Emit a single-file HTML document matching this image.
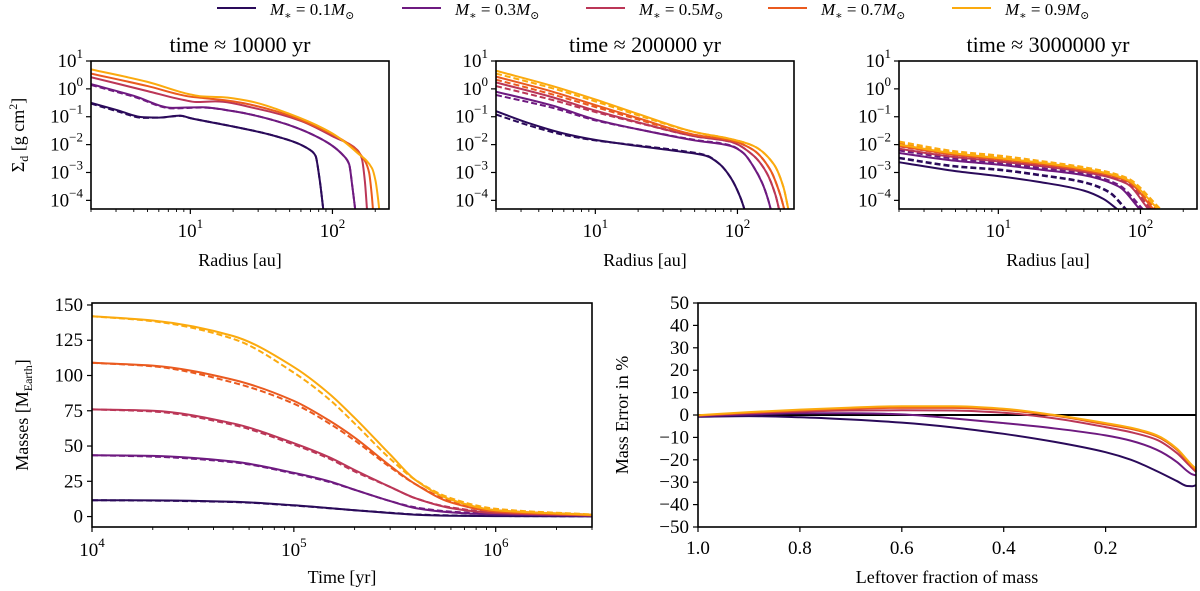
<!DOCTYPE html>
<html><head><meta charset="utf-8">
<style>
html,body{margin:0;padding:0;background:#fff;}
svg{display:block;font-family:"Liberation Serif","DejaVu Serif",serif;}
</style></head>
<body>
<svg id="chart" width="1200" height="591" viewBox="0 0 1200 591" xmlns="http://www.w3.org/2000/svg"></svg>
<script>
const seriesLabels = ["0.1","0.3","0.5","0.7","0.9"];
const seriesColors = ["#2a0a5a","#6e1a80","#bb3657","#ea5a1f","#fbaa0e"];

// Panel 1: t ~ 1e4 yr, points [radius au, log10 Sigma]
const p1Solid = [
 [[2,-0.5],[3,-0.75],[4.7,-1.02],[6,-1.03],[8.5,-0.96],[10,-1.05],[20,-1.35],[40,-1.7],[70,-2.2],[76,-2.4],[81,-3.2],[87,-4.5]],
 [[2,0.17],[4,-0.25],[7.5,-0.68],[12,-0.66],[20,-0.8],[40,-1.15],[80,-1.75],[120,-2.4],[131,-2.7],[138,-3.5],[146,-4.5]],
 [[2,0.42],[5,-0.08],[9,-0.4],[11,-0.47],[15,-0.45],[30,-0.72],[60,-1.15],[100,-1.7],[150,-2.2],[161,-2.5],[169,-3.3],[176,-4.5]],
 [[2,0.55],[5,0.1],[10,-0.28],[13,-0.34],[20,-0.45],[40,-0.8],[80,-1.4],[140,-2.1],[170,-2.6],[181,-3.0],[189,-3.8],[194,-4.5]],
 [[2,0.7],[5,0.25],[10,-0.2],[12,-0.27],[17,-0.3],[25,-0.42],[50,-0.9],[100,-1.6],[150,-2.3],[190,-2.85],[201,-3.3],[210,-4.0],[215,-4.5]]
];
const p1Dashed = [
 [[2,-0.53],[3,-0.79],[4.7,-1.04],[6,-1.03],[8.5,-0.97],[10,-1.05],[20,-1.35],[40,-1.7],[70,-2.2],[76,-2.4],[81,-3.2],[87,-4.5]],
 [[2,0.14],[4,-0.28],[7.5,-0.7],[12,-0.67],[20,-0.8],[40,-1.15],[80,-1.75],[120,-2.4],[131,-2.7],[138,-3.5],[146,-4.5]],
 null,null,null
];
// Panel 2: t ~ 2e5 yr
const p2Solid = [
 [[2,-0.8],[3.5,-1.25],[6,-1.6],[10,-1.83],[20,-2.05],[40,-2.25],[60,-2.4],[75,-2.7],[90,-3.2],[105,-3.9],[115,-4.5]],
 [[2,-0.1],[5,-0.6],[10,-1.1],[20,-1.45],[50,-1.85],[90,-2.05],[110,-2.3],[130,-2.8],[150,-3.4],[165,-4.0],[175,-4.5]],
 [[2,0.23],[5,-0.3],[10,-0.78],[20,-1.2],[50,-1.7],[90,-1.9],[130,-2.4],[160,-3.0],[185,-3.8],[200,-4.5]],
 [[2,0.44],[5,-0.1],[10,-0.58],[20,-1.05],[50,-1.65],[90,-1.85],[130,-2.2],[170,-2.9],[200,-3.8],[218,-4.5]],
 [[2,0.65],[5,0.1],[10,-0.38],[20,-0.9],[50,-1.55],[90,-1.8],[130,-2.05],[180,-2.7],[210,-3.5],[232,-4.5]]
];
const p2Dashed = [
 [[2,-0.92],[3.5,-1.33],[6,-1.65],[10,-1.85],[20,-2.03],[40,-2.22],[60,-2.38],[75,-2.7],[90,-3.2],[105,-3.9],[115,-4.5]],
 [[2,-0.22],[5,-0.68],[10,-1.13],[20,-1.45],[50,-1.83],[90,-2.03],[110,-2.3],[130,-2.8],[150,-3.4],[165,-4.0],[175,-4.5]],
 [[2,0.1],[5,-0.4],[10,-0.83],[20,-1.22],[50,-1.7],[90,-1.9],[130,-2.4],[160,-3.0],[185,-3.8],[200,-4.5]],
 [[2,0.33],[5,-0.2],[10,-0.65],[20,-1.1],[50,-1.65],[90,-1.85],[130,-2.2],[170,-2.9],[200,-3.8],[218,-4.5]],
 [[2,0.55],[5,0.02],[10,-0.45],[20,-0.95],[50,-1.55],[90,-1.8],[130,-2.05],[180,-2.7],[210,-3.5],[232,-4.5]]
];
// Panel 3: t ~ 3e6 yr
const p3Solid = [
 [[2,-2.63],[5,-2.95],[10,-3.13],[20,-3.35],[40,-3.65],[55,-3.95],[70,-4.35]],
 [[2,-2.3],[5,-2.58],[10,-2.72],[20,-2.9],[40,-3.1],[70,-3.5],[100,-4.35]],
 [[2,-2.15],[5,-2.45],[10,-2.6],[20,-2.77],[40,-2.98],[80,-3.4],[115,-4.35]],
 [[2,-2.05],[5,-2.37],[10,-2.53],[20,-2.7],[40,-2.92],[80,-3.3],[125,-4.35]],
 [[2,-2.0],[5,-2.32],[10,-2.48],[20,-2.65],[40,-2.87],[80,-3.25],[135,-4.35]]
];
const p3Dashed = [
 [[2,-2.48],[5,-2.78],[10,-2.9],[20,-3.1],[40,-3.35],[60,-3.7],[80,-4.35]],
 [[2,-2.2],[5,-2.5],[10,-2.65],[20,-2.85],[40,-3.05],[70,-3.45],[105,-4.35]],
 [[2,-2.05],[5,-2.37],[10,-2.53],[20,-2.72],[40,-2.93],[80,-3.35],[120,-4.35]],
 [[2,-1.95],[5,-2.3],[10,-2.47],[20,-2.65],[40,-2.87],[80,-3.25],[130,-4.35]],
 [[2,-1.9],[5,-2.25],[10,-2.4],[20,-2.6],[40,-2.82],[80,-3.2],[140,-4.35]]
];
// Bottom-left: masses vs time
const massTimes = [1e4,2e4,5e4,1e5,1.5e5,2e5,3e5,4e5,6e5,1e6,3e6];
const massSolid = [
 [11.6,11.5,10.5,8,6,4.5,2.5,1.3,0.6,0.3,0.1],
 [43.5,43,39,31,25,19,11,6,3,1.5,0.5],
 [76,75,66,52,42,33,21,13,6,2.5,0.8],
 [109,107,97,82,68,56,36,23,10,3.5,1],
 [142,139,128,106,87,70,44,26,12,4.5,1.2]
];
const massDashed = [
 [11.6,11.3,10.3,7.8,5.9,4.5,2.7,1.5,0.8,0.4,0.2],
 [43.5,42.5,38.5,30.5,24.5,19,11,6.5,3.5,2,0.7],
 [76,74.5,65,51,41,32,21,13,6.5,3,1],
 [109,106.5,95,80,66,54,35,23,11,4.5,1.3],
 [142,138.5,126,102,83,66,41,26,13,5.5,1.5]
];
// Bottom-right: mass error vs leftover fraction
const leftoverFrac = [1.0,0.9,0.8,0.7,0.6,0.5,0.4,0.3,0.2,0.15,0.1,0.06,0.04,0.03,0.022];
const massError = [
 [-0.8,-0.5,-1,-2,-3.4,-5.5,-8.4,-12,-16.6,-20,-25,-29.5,-31.7,-31.8,-31.3],
 [-0.5,0.2,0.8,0.8,0.3,-1.5,-3.6,-6,-9.1,-11.5,-15.5,-21,-25,-26.5,-27],
 [-0.3,0.8,1.5,2,2.1,2,1,-1.5,-5.4,-7.7,-11,-17,-21.5,-23.8,-25.5],
 [-0.2,1,2,2.8,3.2,3.2,2.2,-0.3,-4.2,-6.2,-9.5,-15.5,-20.5,-23,-25],
 [-0.1,1.3,2.4,3.3,3.9,3.9,2.8,0,-3.6,-5.7,-9,-15,-20,-22.5,-24]
];
const errTicks = [50,40,30,20,10,0,-10,-20,-30,-40,-50];
const errTickLabels = ["50","40","30","20","10","0","\u221210","\u221220","\u221230","\u221240","\u221250"];
const fracTicks = [1.0,0.8,0.6,0.4,0.2];
const fracTickLabels = ["1.0","0.8","0.6","0.4","0.2"];
const massTicks = [0,25,50,75,100,125,150];
const sigmaTicks = [1,0,-1,-2,-3,-4];
const sigmaTickExp = ["1","0","\u22121","\u22122","\u22123","\u22124"];
const panelTitles = ["time \u2248 10000 yr","time \u2248 200000 yr","time \u2248 3000000 yr"];

const svg = document.getElementById('chart');
const NS = 'http://www.w3.org/2000/svg';
function el(tag, attrs, parent){
  const e = document.createElementNS(NS, tag);
  for (const k in attrs) e.setAttribute(k, attrs[k]);
  (parent||svg).appendChild(e);
  return e;
}
// monotone cubic spline through pixel points (x increasing)
function pathD(p){
  const n=p.length; if(n<2) return '';
  const dx=[],m=[],t=new Array(n);
  for(let i=0;i<n-1;i++){dx[i]=p[i+1][0]-p[i][0]; m[i]=(p[i+1][1]-p[i][1])/dx[i];}
  t[0]=m[0]; t[n-1]=m[n-2];
  for(let i=1;i<n-1;i++){
    if(m[i-1]*m[i]<=0) t[i]=0;
    else { const w1=2*dx[i]+dx[i-1], w2=dx[i]+2*dx[i-1]; t[i]=(w1+w2)/(w1/m[i-1]+w2/m[i]); }
  }
  let d='M'+p[0][0].toFixed(2)+' '+p[0][1].toFixed(2);
  for(let i=0;i<n-1;i++){
    const h=dx[i]/3;
    d+='C'+(p[i][0]+h).toFixed(2)+' '+(p[i][1]+t[i]*h).toFixed(2)+' '+(p[i+1][0]-h).toFixed(2)+' '+(p[i+1][1]-t[i+1]*h).toFixed(2)+' '+p[i+1][0].toFixed(2)+' '+p[i+1][1].toFixed(2);
  }
  return d;
}

// legend
const legX = [217,402,586,768,952];
seriesLabels.forEach((lab,i)=>{
  const g = el('g',{});
  
  
  el('line',{x1:legX[i],y1:8,x2:legX[i]+39,y2:8,stroke:seriesColors[i],'stroke-width':2},g);
  const t = el('text',{x:legX[i]+53,y:15,'font-size':17,'font-style':'italic',fill:'#000'},g);
  t.innerHTML = 'M<tspan font-size="11" dy="4">\u2217</tspan><tspan dy="-4" font-style="normal"> = '+lab+'</tspan>M<tspan font-size="11" dy="4" font-style="normal">\u2299</tspan>';
});

// top panels
const topPanels = [{x0:91,x1:389},{x0:496,x1:794},{x0:899,x1:1197}];
const topY0 = 61, topY1 = 209;
const logRmin = Math.log10(2), logRmax = Math.log10(250);
const logSmin = -4.31, logSmax = 1;
const topData = [[p1Solid,p1Dashed],[p2Solid,p2Dashed],[p3Solid,p3Dashed]];

topPanels.forEach((P,pi)=>{
  const g = el('g',{});
  
  
  const xs = r => P.x0 + (Math.log10(r)-logRmin)/(logRmax-logRmin)*(P.x1-P.x0);
  const ys = v => topY0 + (logSmax - v)/(logSmax-logSmin)*(topY1-topY0);
  const cid = 'clipTop'+pi;
  const cp = el('clipPath',{id:cid},g);
  el('rect',{x:P.x0,y:topY0,width:P.x1-P.x0,height:topY1-topY0},cp);
  const [sol,das] = topData[pi];
  for (let s=0;s<5;s++){
    const ps = el('path',{d:pathD(sol[s].map(p=>[xs(p[0]),ys(p[1])])),fill:'none',stroke:seriesColors[s],'stroke-width':2,'clip-path':'url(#'+cid+')'},g);
    
    
    if (das[s]){
      const pd = el('path',{d:pathD(das[s].map(p=>[xs(p[0]),ys(p[1])])),fill:'none',stroke:seriesColors[s],'stroke-width':pi===2?2.6:2,'stroke-dasharray':'6,3','clip-path':'url(#'+cid+')'},g);
      
      
    }
  }
  el('rect',{x:P.x0,y:topY0,width:P.x1-P.x0,height:topY1-topY0,fill:'none',stroke:'#000','stroke-width':1.6},g);
  sigmaTicks.forEach((v,i)=>{
    const y = ys(v);
    el('line',{x1:P.x0-5,y1:y,x2:P.x0,y2:y,stroke:'#000','stroke-width':1.2},g);
    const t = el('text',{x:P.x0-8,y:y+6,'font-size':19,'text-anchor':'end'},g);
    t.innerHTML = '10<tspan font-size="13" dy="-9">'+sigmaTickExp[i]+'</tspan>';
  });
  for (let d=0; d<=2; d++){
    for (let m=1;m<10;m++){
      const r = m*Math.pow(10,d);
      if (r<2||r>250) continue;
      const x = xs(r);
      const major = m===1;
      el('line',{x1:x,y1:topY1,x2:x,y2:topY1+(major?5:3),stroke:'#000','stroke-width':major?1.2:0.9},g);
      if (major && d>0){
        const t = el('text',{x:x,y:topY1+28,'font-size':19,'text-anchor':'middle'},g);
        t.innerHTML = '10<tspan font-size="13" dy="-9">'+d+'</tspan>';
      }
    }
  }
  const xl = el('text',{x:(P.x0+P.x1)/2,y:266,'font-size':18,'text-anchor':'middle'},g);
  xl.textContent = 'Radius [au]';
  
  
  const tt = el('text',{x:(P.x0+P.x1)/2,y:52,'font-size':22,'text-anchor':'middle'},g);
  tt.textContent = panelTitles[pi];
  
  
});
const sl = el('text',{x:0,y:0,'font-size':18,'text-anchor':'middle',transform:'translate(24,135) rotate(-90)'});
sl.innerHTML = '\u03A3<tspan font-size="12" dy="4">d</tspan><tspan dy="-4"> [g cm</tspan><tspan font-size="12" dy="-7">2</tspan><tspan dy="7">]</tspan>';



// bottom-left
(function(){
  const x0=92,x1=592,y0=303,y1=527;
  const lmin=4, lmax=Math.log10(3e6), vmin=-7.4, vmax=151.4;
  const xs = t => x0 + (Math.log10(t)-lmin)/(lmax-lmin)*(x1-x0);
  const ys = v => y0 + (vmax-v)/(vmax-vmin)*(y1-y0);
  const g = el('g',{});
  
  
  for (let s=0;s<5;s++){
    const pd = el('path',{d:pathD(massTimes.map((t,i)=>[xs(t),ys(massDashed[s][i])])),fill:'none',stroke:seriesColors[s],'stroke-width':2,'stroke-dasharray':'6,3'},g);
    
    
    const ps = el('path',{d:pathD(massTimes.map((t,i)=>[xs(t),ys(massSolid[s][i])])),fill:'none',stroke:seriesColors[s],'stroke-width':2},g);
    
    
  }
  el('rect',{x:x0,y:y0,width:x1-x0,height:y1-y0,fill:'none',stroke:'#000','stroke-width':1.6},g);
  massTicks.forEach(v=>{
    const y=ys(v);
    el('line',{x1:x0-5,y1:y,x2:x0,y2:y,stroke:'#000','stroke-width':1.2},g);
    const t=el('text',{x:x0-9,y:y+6,'font-size':19,'text-anchor':'end'},g); t.textContent=String(v);
  });
  for (let d=4; d<=6; d++){
    for (let m=1;m<10;m++){
      const tv=m*Math.pow(10,d); if (tv>3.01e6) continue;
      const x=xs(tv), major=m===1;
      el('line',{x1:x,y1:y1,x2:x,y2:y1+(major?5:3),stroke:'#000','stroke-width':major?1.2:0.9},g);
      if (major){
        const t=el('text',{x:x,y:y1+29,'font-size':19,'text-anchor':'middle'},g);
        t.innerHTML='10<tspan font-size="13" dy="-9">'+d+'</tspan>';
      }
    }
  }
  const xl=el('text',{x:(x0+x1)/2,y:583,'font-size':18,'text-anchor':'middle'},g); xl.textContent='Time [yr]';
  
  
  const yl=el('text',{x:0,y:0,'font-size':18,'text-anchor':'middle',transform:'translate(28,415) rotate(-90)'},g);
  yl.innerHTML='Masses [M<tspan font-size="12" dy="4">Earth</tspan><tspan dy="-4">]</tspan>';
  
  
})();

// bottom-right
(function(){
  const x0=698,x1=1196,y0=303,y1=527;
  const fmax=1.0, fmin=0.0226, vmin=-50, vmax=50;
  const xs = f => x0 + (fmax-f)/(fmax-fmin)*(x1-x0);
  const ys = v => y0 + (vmax-v)/(vmax-vmin)*(y1-y0);
  const g = el('g',{});
  
  
  const z = el('line',{x1:x0,y1:ys(0),x2:x1,y2:ys(0),stroke:'#000','stroke-width':2},g);
  
  
  for (let s=0;s<5;s++){
    const ps = el('path',{d:pathD(leftoverFrac.map((f,i)=>[xs(f),ys(massError[s][i])])),fill:'none',stroke:seriesColors[s],'stroke-width':2},g);
    
    
  }
  el('rect',{x:x0,y:y0,width:x1-x0,height:y1-y0,fill:'none',stroke:'#000','stroke-width':1.6},g);
  errTicks.forEach((v,i)=>{
    const y=ys(v);
    el('line',{x1:x0-5,y1:y,x2:x0,y2:y,stroke:'#000','stroke-width':1.2},g);
    const t=el('text',{x:x0-9,y:y+6,'font-size':19,'text-anchor':'end'},g); t.textContent=errTickLabels[i];
  });
  fracTicks.forEach((f,i)=>{
    const x=xs(f);
    el('line',{x1:x,y1:y1,x2:x,y2:y1+5,stroke:'#000','stroke-width':1.2},g);
    const t=el('text',{x:x,y:y1+27,'font-size':19,'text-anchor':'middle'},g); t.textContent=fracTickLabels[i];
  });
  const xl=el('text',{x:(x0+x1)/2,y:583,'font-size':18,'text-anchor':'middle'},g); xl.textContent='Leftover fraction of mass';
  
  
  const yl=el('text',{x:0,y:0,'font-size':18,'text-anchor':'middle',transform:'translate(628,415) rotate(-90)'},g);
  yl.textContent='Mass Error in %';
  
  
})();
</script>
</body></html>
